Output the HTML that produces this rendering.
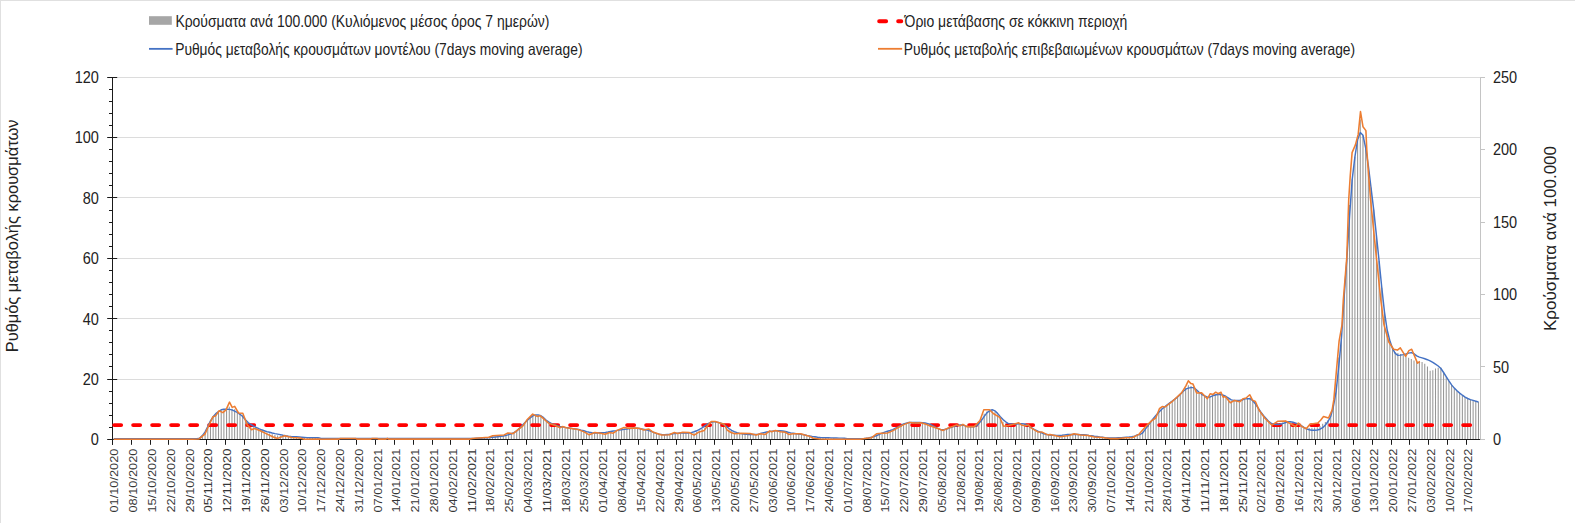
<!DOCTYPE html>
<html lang="el"><head><meta charset="utf-8"><title>Chart</title>
<style>html,body{margin:0;padding:0;background:#fff}body{width:1575px;height:523px;overflow:hidden}svg{display:block}</style></head>
<body>
<svg width="1575" height="523" viewBox="0 0 1575 523">
<rect width="1575" height="523" fill="#fff"/>
<rect x="0" y="0" width="1575" height="1" fill="#e0e0e0"/><rect x="0" y="0" width="1" height="523" fill="#e0e0e0"/>
<path d="M112.4,379.5H1480.8M112.4,318.5H1480.8M112.4,258.5H1480.8M112.4,197.5H1480.8M112.4,137.5H1480.8M112.4,77.5H1480.8" stroke="#dcdcdc" stroke-width="1" fill="none"/>
<path d="M199.19,439.4V438.0h1.05V439.4zM201.87,439.4V435.7h1.05V439.4zM204.56,439.4V432.6h1.05V439.4zM207.25,439.4V427.1h1.05V439.4zM209.93,439.4V421.3h1.05V439.4zM212.62,439.4V416.8h1.05V439.4zM215.31,439.4V414.4h1.05V439.4zM217.99,439.4V411.6h1.05V439.4zM220.68,439.4V410.6h1.05V439.4zM223.36,439.4V410.2h1.05V439.4zM226.05,439.4V409.0h1.05V439.4zM228.74,439.4V406.7h1.05V439.4zM231.42,439.4V408.7h1.05V439.4zM234.11,439.4V409.2h1.05V439.4zM236.80,439.4V411.8h1.05V439.4zM239.48,439.4V413.8h1.05V439.4zM242.17,439.4V415.2h1.05V439.4zM244.86,439.4V419.8h1.05V439.4zM247.54,439.4V423.9h1.05V439.4zM250.23,439.4V426.3h1.05V439.4zM252.92,439.4V427.2h1.05V439.4zM255.60,439.4V428.1h1.05V439.4zM258.29,439.4V429.3h1.05V439.4zM260.98,439.4V430.4h1.05V439.4zM263.66,439.4V431.5h1.05V439.4zM266.35,439.4V432.5h1.05V439.4zM269.04,439.4V433.4h1.05V439.4zM271.72,439.4V434.3h1.05V439.4zM274.41,439.4V435.0h1.05V439.4zM277.09,439.4V435.6h1.05V439.4zM279.78,439.4V435.6h1.05V439.4zM282.47,439.4V435.6h1.05V439.4zM285.15,439.4V435.8h1.05V439.4zM287.84,439.4V436.2h1.05V439.4zM290.53,439.4V436.5h1.05V439.4zM293.21,439.4V436.8h1.05V439.4zM295.90,439.4V437.0h1.05V439.4zM298.59,439.4V437.2h1.05V439.4zM301.27,439.4V437.5h1.05V439.4zM303.96,439.4V437.9h1.05V439.4zM306.65,439.4V438.0h1.05V439.4zM309.33,439.4V438.1h1.05V439.4zM312.02,439.4V438.1h1.05V439.4zM314.71,439.4V438.1h1.05V439.4zM317.39,439.4V438.1h1.05V439.4zM341.57,439.4V438.2h1.05V439.4zM344.26,439.4V438.2h1.05V439.4zM346.94,439.4V438.2h1.05V439.4zM349.63,439.4V438.2h1.05V439.4zM352.32,439.4V438.2h1.05V439.4zM355.00,439.4V438.2h1.05V439.4zM373.81,439.4V438.2h1.05V439.4zM376.50,439.4V438.2h1.05V439.4zM387.24,439.4V438.3h1.05V439.4zM473.21,439.4V438.1h1.05V439.4zM475.90,439.4V438.0h1.05V439.4zM478.58,439.4V437.8h1.05V439.4zM481.27,439.4V437.7h1.05V439.4zM483.96,439.4V437.5h1.05V439.4zM486.64,439.4V437.4h1.05V439.4zM489.33,439.4V437.1h1.05V439.4zM492.01,439.4V436.6h1.05V439.4zM494.70,439.4V436.4h1.05V439.4zM497.39,439.4V436.1h1.05V439.4zM500.07,439.4V435.9h1.05V439.4zM502.76,439.4V435.6h1.05V439.4zM505.45,439.4V434.8h1.05V439.4zM508.13,439.4V434.0h1.05V439.4zM510.82,439.4V433.6h1.05V439.4zM513.51,439.4V432.7h1.05V439.4zM516.19,439.4V430.9h1.05V439.4zM518.88,439.4V428.5h1.05V439.4zM521.57,439.4V425.8h1.05V439.4zM524.25,439.4V422.9h1.05V439.4zM526.94,439.4V419.8h1.05V439.4zM529.63,439.4V417.3h1.05V439.4zM532.31,439.4V415.2h1.05V439.4zM535.00,439.4V415.3h1.05V439.4zM537.69,439.4V415.4h1.05V439.4zM540.37,439.4V416.0h1.05V439.4zM543.06,439.4V418.1h1.05V439.4zM545.74,439.4V420.6h1.05V439.4zM548.43,439.4V422.7h1.05V439.4zM551.12,439.4V423.9h1.05V439.4zM553.80,439.4V424.9h1.05V439.4zM556.49,439.4V426.0h1.05V439.4zM559.18,439.4V426.9h1.05V439.4zM561.86,439.4V426.8h1.05V439.4zM564.55,439.4V427.4h1.05V439.4zM567.24,439.4V427.9h1.05V439.4zM569.92,439.4V428.3h1.05V439.4zM572.61,439.4V428.6h1.05V439.4zM575.30,439.4V429.0h1.05V439.4zM577.98,439.4V429.6h1.05V439.4zM580.67,439.4V430.4h1.05V439.4zM583.36,439.4V431.2h1.05V439.4zM586.04,439.4V432.3h1.05V439.4zM588.73,439.4V433.3h1.05V439.4zM591.42,439.4V433.1h1.05V439.4zM594.10,439.4V432.8h1.05V439.4zM596.79,439.4V432.9h1.05V439.4zM599.47,439.4V432.9h1.05V439.4zM602.16,439.4V433.1h1.05V439.4zM604.85,439.4V433.1h1.05V439.4zM607.53,439.4V432.4h1.05V439.4zM610.22,439.4V432.0h1.05V439.4zM612.91,439.4V431.9h1.05V439.4zM615.59,439.4V430.8h1.05V439.4zM618.28,439.4V430.0h1.05V439.4zM620.97,439.4V429.3h1.05V439.4zM623.65,439.4V428.6h1.05V439.4zM626.34,439.4V428.6h1.05V439.4zM629.03,439.4V428.4h1.05V439.4zM631.71,439.4V428.2h1.05V439.4zM634.40,439.4V428.1h1.05V439.4zM637.09,439.4V428.3h1.05V439.4zM639.77,439.4V428.7h1.05V439.4zM642.46,439.4V429.4h1.05V439.4zM645.15,439.4V429.7h1.05V439.4zM647.83,439.4V429.9h1.05V439.4zM650.52,439.4V431.0h1.05V439.4zM653.20,439.4V432.3h1.05V439.4zM655.89,439.4V433.4h1.05V439.4zM658.58,439.4V434.1h1.05V439.4zM661.26,439.4V434.8h1.05V439.4zM663.95,439.4V434.8h1.05V439.4zM666.64,439.4V434.7h1.05V439.4zM669.32,439.4V434.4h1.05V439.4zM672.01,439.4V433.7h1.05V439.4zM674.70,439.4V433.2h1.05V439.4zM677.38,439.4V433.3h1.05V439.4zM680.07,439.4V432.9h1.05V439.4zM682.76,439.4V432.7h1.05V439.4zM685.44,439.4V432.7h1.05V439.4zM688.13,439.4V432.8h1.05V439.4zM690.82,439.4V433.0h1.05V439.4zM693.50,439.4V433.1h1.05V439.4zM696.19,439.4V431.8h1.05V439.4zM698.88,439.4V430.4h1.05V439.4zM701.56,439.4V429.1h1.05V439.4zM704.25,439.4V427.4h1.05V439.4zM706.93,439.4V424.7h1.05V439.4zM709.62,439.4V422.7h1.05V439.4zM712.31,439.4V421.7h1.05V439.4zM714.99,439.4V421.8h1.05V439.4zM717.68,439.4V422.4h1.05V439.4zM720.37,439.4V423.2h1.05V439.4zM723.05,439.4V424.2h1.05V439.4zM725.74,439.4V427.2h1.05V439.4zM728.43,439.4V429.6h1.05V439.4zM731.11,439.4V431.3h1.05V439.4zM733.80,439.4V432.4h1.05V439.4zM736.49,439.4V433.0h1.05V439.4zM739.17,439.4V433.4h1.05V439.4zM741.86,439.4V433.6h1.05V439.4zM744.55,439.4V433.9h1.05V439.4zM747.23,439.4V434.0h1.05V439.4zM749.92,439.4V434.1h1.05V439.4zM752.61,439.4V434.4h1.05V439.4zM755.29,439.4V434.6h1.05V439.4zM757.98,439.4V434.2h1.05V439.4zM760.66,439.4V433.6h1.05V439.4zM763.35,439.4V433.2h1.05V439.4zM766.04,439.4V432.6h1.05V439.4zM768.72,439.4V431.4h1.05V439.4zM771.41,439.4V431.4h1.05V439.4zM774.10,439.4V430.9h1.05V439.4zM776.78,439.4V430.8h1.05V439.4zM779.47,439.4V431.0h1.05V439.4zM782.16,439.4V431.4h1.05V439.4zM784.84,439.4V431.8h1.05V439.4zM787.53,439.4V433.0h1.05V439.4zM790.22,439.4V433.4h1.05V439.4zM792.90,439.4V433.5h1.05V439.4zM795.59,439.4V433.7h1.05V439.4zM798.28,439.4V434.0h1.05V439.4zM800.96,439.4V434.3h1.05V439.4zM803.65,439.4V434.9h1.05V439.4zM806.34,439.4V435.4h1.05V439.4zM809.02,439.4V436.0h1.05V439.4zM811.71,439.4V436.7h1.05V439.4zM814.39,439.4V437.2h1.05V439.4zM817.08,439.4V437.5h1.05V439.4zM819.77,439.4V437.8h1.05V439.4zM822.45,439.4V438.0h1.05V439.4zM825.14,439.4V438.1h1.05V439.4zM827.83,439.4V438.2h1.05V439.4zM830.51,439.4V438.2h1.05V439.4zM833.20,439.4V438.3h1.05V439.4zM865.44,439.4V438.1h1.05V439.4zM868.12,439.4V437.8h1.05V439.4zM870.81,439.4V437.3h1.05V439.4zM873.50,439.4V436.1h1.05V439.4zM876.18,439.4V434.8h1.05V439.4zM878.87,439.4V434.0h1.05V439.4zM881.56,439.4V433.2h1.05V439.4zM884.24,439.4V432.5h1.05V439.4zM886.93,439.4V431.9h1.05V439.4zM889.62,439.4V431.1h1.05V439.4zM892.30,439.4V430.0h1.05V439.4zM894.99,439.4V428.5h1.05V439.4zM897.68,439.4V427.0h1.05V439.4zM900.36,439.4V425.6h1.05V439.4zM903.05,439.4V424.3h1.05V439.4zM905.74,439.4V423.4h1.05V439.4zM908.42,439.4V422.6h1.05V439.4zM911.11,439.4V422.5h1.05V439.4zM913.80,439.4V422.6h1.05V439.4zM916.48,439.4V422.6h1.05V439.4zM919.17,439.4V422.6h1.05V439.4zM921.85,439.4V422.9h1.05V439.4zM924.54,439.4V423.4h1.05V439.4zM927.23,439.4V424.2h1.05V439.4zM929.91,439.4V425.1h1.05V439.4zM932.60,439.4V426.3h1.05V439.4zM935.29,439.4V427.6h1.05V439.4zM937.97,439.4V428.7h1.05V439.4zM940.66,439.4V429.8h1.05V439.4zM943.35,439.4V429.9h1.05V439.4zM946.03,439.4V428.9h1.05V439.4zM948.72,439.4V427.9h1.05V439.4zM951.41,439.4V427.0h1.05V439.4zM954.09,439.4V426.1h1.05V439.4zM956.78,439.4V425.4h1.05V439.4zM959.47,439.4V425.3h1.05V439.4zM962.15,439.4V424.8h1.05V439.4zM964.84,439.4V425.9h1.05V439.4zM967.53,439.4V426.6h1.05V439.4zM970.21,439.4V426.7h1.05V439.4zM972.90,439.4V426.7h1.05V439.4zM975.58,439.4V425.5h1.05V439.4zM978.27,439.4V422.9h1.05V439.4zM980.96,439.4V418.7h1.05V439.4zM983.64,439.4V413.7h1.05V439.4zM986.33,439.4V411.6h1.05V439.4zM989.02,439.4V410.3h1.05V439.4zM991.70,439.4V410.8h1.05V439.4zM994.39,439.4V412.3h1.05V439.4zM997.08,439.4V414.5h1.05V439.4zM999.76,439.4V417.5h1.05V439.4zM1002.45,439.4V421.7h1.05V439.4zM1005.14,439.4V423.4h1.05V439.4zM1007.82,439.4V424.4h1.05V439.4zM1010.51,439.4V424.4h1.05V439.4zM1013.20,439.4V424.1h1.05V439.4zM1015.88,439.4V423.7h1.05V439.4zM1018.57,439.4V423.4h1.05V439.4zM1021.26,439.4V424.2h1.05V439.4zM1023.94,439.4V424.6h1.05V439.4zM1026.63,439.4V425.0h1.05V439.4zM1029.31,439.4V426.6h1.05V439.4zM1032.00,439.4V428.5h1.05V439.4zM1034.69,439.4V430.1h1.05V439.4zM1037.37,439.4V431.5h1.05V439.4zM1040.06,439.4V432.1h1.05V439.4zM1042.75,439.4V433.2h1.05V439.4zM1045.43,439.4V434.2h1.05V439.4zM1048.12,439.4V434.8h1.05V439.4zM1050.81,439.4V435.0h1.05V439.4zM1053.49,439.4V435.3h1.05V439.4zM1056.18,439.4V435.5h1.05V439.4zM1058.87,439.4V435.8h1.05V439.4zM1061.55,439.4V435.7h1.05V439.4zM1064.24,439.4V435.3h1.05V439.4zM1066.93,439.4V435.0h1.05V439.4zM1069.61,439.4V434.7h1.05V439.4zM1072.30,439.4V434.4h1.05V439.4zM1074.99,439.4V434.3h1.05V439.4zM1077.67,439.4V434.5h1.05V439.4zM1080.36,439.4V434.8h1.05V439.4zM1083.04,439.4V434.9h1.05V439.4zM1085.73,439.4V435.1h1.05V439.4zM1088.42,439.4V435.5h1.05V439.4zM1091.10,439.4V435.9h1.05V439.4zM1093.79,439.4V436.4h1.05V439.4zM1096.48,439.4V436.6h1.05V439.4zM1099.16,439.4V436.9h1.05V439.4zM1101.85,439.4V437.1h1.05V439.4zM1104.54,439.4V437.5h1.05V439.4zM1107.22,439.4V437.8h1.05V439.4zM1109.91,439.4V438.0h1.05V439.4zM1112.60,439.4V438.0h1.05V439.4zM1115.28,439.4V437.9h1.05V439.4zM1117.97,439.4V437.8h1.05V439.4zM1120.66,439.4V437.7h1.05V439.4zM1123.34,439.4V437.4h1.05V439.4zM1126.03,439.4V437.2h1.05V439.4zM1128.72,439.4V437.0h1.05V439.4zM1131.40,439.4V436.8h1.05V439.4zM1134.09,439.4V436.1h1.05V439.4zM1136.77,439.4V434.9h1.05V439.4zM1139.46,439.4V433.9h1.05V439.4zM1142.15,439.4V431.7h1.05V439.4zM1144.83,439.4V428.3h1.05V439.4zM1147.52,439.4V425.1h1.05V439.4zM1150.21,439.4V421.9h1.05V439.4zM1152.89,439.4V418.9h1.05V439.4zM1155.58,439.4V416.0h1.05V439.4zM1158.27,439.4V411.4h1.05V439.4zM1160.95,439.4V408.6h1.05V439.4zM1163.64,439.4V407.1h1.05V439.4zM1166.33,439.4V405.3h1.05V439.4zM1169.01,439.4V403.2h1.05V439.4zM1171.70,439.4V401.2h1.05V439.4zM1174.39,439.4V399.1h1.05V439.4zM1177.07,439.4V396.8h1.05V439.4zM1179.76,439.4V394.2h1.05V439.4zM1182.45,439.4V391.2h1.05V439.4zM1185.13,439.4V388.0h1.05V439.4zM1187.82,439.4V385.2h1.05V439.4zM1190.50,439.4V386.0h1.05V439.4zM1193.19,439.4V386.9h1.05V439.4zM1195.88,439.4V390.9h1.05V439.4zM1198.56,439.4V392.4h1.05V439.4zM1201.25,439.4V393.7h1.05V439.4zM1203.94,439.4V395.7h1.05V439.4zM1206.62,439.4V397.6h1.05V439.4zM1209.31,439.4V396.0h1.05V439.4zM1212.00,439.4V395.2h1.05V439.4zM1214.68,439.4V394.0h1.05V439.4zM1217.37,439.4V394.1h1.05V439.4zM1220.06,439.4V393.6h1.05V439.4zM1222.74,439.4V396.0h1.05V439.4zM1225.43,439.4V396.8h1.05V439.4zM1228.12,439.4V399.1h1.05V439.4zM1230.80,439.4V400.8h1.05V439.4zM1233.49,439.4V400.5h1.05V439.4zM1236.18,439.4V400.6h1.05V439.4zM1238.86,439.4V400.9h1.05V439.4zM1241.55,439.4V399.9h1.05V439.4zM1244.23,439.4V398.7h1.05V439.4zM1246.92,439.4V397.9h1.05V439.4zM1249.61,439.4V397.4h1.05V439.4zM1252.29,439.4V400.6h1.05V439.4zM1254.98,439.4V403.1h1.05V439.4zM1257.67,439.4V408.2h1.05V439.4zM1260.35,439.4V412.4h1.05V439.4zM1263.04,439.4V416.0h1.05V439.4zM1265.73,439.4V419.1h1.05V439.4zM1268.41,439.4V421.9h1.05V439.4zM1271.10,439.4V424.2h1.05V439.4zM1273.79,439.4V424.0h1.05V439.4zM1276.47,439.4V423.4h1.05V439.4zM1279.16,439.4V423.0h1.05V439.4zM1281.85,439.4V422.6h1.05V439.4zM1284.53,439.4V422.0h1.05V439.4zM1287.22,439.4V422.0h1.05V439.4zM1289.91,439.4V422.5h1.05V439.4zM1292.59,439.4V423.5h1.05V439.4zM1295.28,439.4V424.4h1.05V439.4zM1297.96,439.4V423.7h1.05V439.4zM1300.65,439.4V425.6h1.05V439.4zM1303.34,439.4V427.5h1.05V439.4zM1306.02,439.4V428.7h1.05V439.4zM1308.71,439.4V427.9h1.05V439.4zM1311.40,439.4V427.7h1.05V439.4zM1314.08,439.4V427.5h1.05V439.4zM1316.77,439.4V427.2h1.05V439.4zM1319.46,439.4V425.9h1.05V439.4zM1322.14,439.4V423.7h1.05V439.4zM1324.83,439.4V421.9h1.05V439.4zM1327.52,439.4V420.1h1.05V439.4zM1330.20,439.4V415.2h1.05V439.4zM1332.89,439.4V404.7h1.05V439.4zM1335.58,439.4V384.7h1.05V439.4zM1338.26,439.4V357.6h1.05V439.4zM1340.95,439.4V333.5h1.05V439.4zM1343.64,439.4V293.5h1.05V439.4zM1346.32,439.4V258.4h1.05V439.4zM1349.01,439.4V204.9h1.05V439.4zM1351.69,439.4V179.3h1.05V439.4zM1354.38,439.4V156.8h1.05V439.4zM1357.07,439.4V139.7h1.05V439.4zM1359.75,439.4V119.5h1.05V439.4zM1362.44,439.4V135.3h1.05V439.4zM1365.13,439.4V148.0h1.05V439.4zM1367.81,439.4V165.3h1.05V439.4zM1370.50,439.4V187.5h1.05V439.4zM1373.19,439.4V209.7h1.05V439.4zM1375.87,439.4V235.1h1.05V439.4zM1378.56,439.4V261.1h1.05V439.4zM1381.25,439.4V287.7h1.05V439.4zM1383.93,439.4V312.1h1.05V439.4zM1386.62,439.4V329.6h1.05V439.4zM1389.31,439.4V340.5h1.05V439.4zM1391.99,439.4V348.4h1.05V439.4zM1394.68,439.4V351.9h1.05V439.4zM1397.37,439.4V353.0h1.05V439.4zM1400.05,439.4V354.1h1.05V439.4zM1402.74,439.4V355.3h1.05V439.4zM1405.42,439.4V356.4h1.05V439.4zM1408.11,439.4V357.7h1.05V439.4zM1410.80,439.4V359.0h1.05V439.4zM1413.48,439.4V360.4h1.05V439.4zM1416.17,439.4V361.3h1.05V439.4zM1418.86,439.4V361.6h1.05V439.4zM1421.54,439.4V362.0h1.05V439.4zM1424.23,439.4V363.7h1.05V439.4zM1426.92,439.4V366.6h1.05V439.4zM1429.60,439.4V370.7h1.05V439.4zM1432.29,439.4V370.2h1.05V439.4zM1434.98,439.4V368.5h1.05V439.4zM1437.66,439.4V367.7h1.05V439.4zM1440.35,439.4V367.5h1.05V439.4zM1443.04,439.4V372.5h1.05V439.4zM1445.72,439.4V376.7h1.05V439.4zM1448.41,439.4V380.9h1.05V439.4zM1451.10,439.4V384.9h1.05V439.4zM1453.78,439.4V388.1h1.05V439.4zM1456.47,439.4V390.8h1.05V439.4zM1459.15,439.4V393.1h1.05V439.4zM1461.84,439.4V395.2h1.05V439.4zM1464.53,439.4V397.1h1.05V439.4zM1467.21,439.4V398.5h1.05V439.4zM1469.90,439.4V399.6h1.05V439.4zM1472.59,439.4V400.4h1.05V439.4zM1475.27,439.4V401.2h1.05V439.4zM1477.96,439.4V402.0h1.05V439.4z" fill="#969696"/>
<path d="M1480.5,77.2V439.4M1480.5,439.5h4.5M1480.5,366.5h4.5M1480.5,294.5h4.5M1480.5,222.5h4.5M1480.5,149.5h4.5M1480.5,77.5h4.5" stroke="#c4c4c4" stroke-width="1" fill="none"/>
<path d="M112.4,439.5H1480.2M112.5,439.4v5.4M131.5,439.4v5.4M150.5,439.4v5.4M168.5,439.4v5.4M187.5,439.4v5.4M206.5,439.4v5.4M225.5,439.4v5.4M244.5,439.4v5.4M262.5,439.4v5.4M281.5,439.4v5.4M300.5,439.4v5.4M319.5,439.4v5.4M338.5,439.4v5.4M356.5,439.4v5.4M375.5,439.4v5.4M394.5,439.4v5.4M413.5,439.4v5.4M432.5,439.4v5.4M450.5,439.4v5.4M469.5,439.4v5.4M488.5,439.4v5.4M507.5,439.4v5.4M526.5,439.4v5.4M544.5,439.4v5.4M563.5,439.4v5.4M582.5,439.4v5.4M601.5,439.4v5.4M620.5,439.4v5.4M638.5,439.4v5.4M657.5,439.4v5.4M676.5,439.4v5.4M695.5,439.4v5.4M714.5,439.4v5.4M732.5,439.4v5.4M751.5,439.4v5.4M770.5,439.4v5.4M789.5,439.4v5.4M808.5,439.4v5.4M827.5,439.4v5.4M845.5,439.4v5.4M864.5,439.4v5.4M883.5,439.4v5.4M902.5,439.4v5.4M921.5,439.4v5.4M939.5,439.4v5.4M958.5,439.4v5.4M977.5,439.4v5.4M996.5,439.4v5.4M1015.5,439.4v5.4M1033.5,439.4v5.4M1052.5,439.4v5.4M1071.5,439.4v5.4M1090.5,439.4v5.4M1109.5,439.4v5.4M1127.5,439.4v5.4M1146.5,439.4v5.4M1165.5,439.4v5.4M1184.5,439.4v5.4M1203.5,439.4v5.4M1221.5,439.4v5.4M1240.5,439.4v5.4M1259.5,439.4v5.4M1278.5,439.4v5.4M1297.5,439.4v5.4M1315.5,439.4v5.4M1334.5,439.4v5.4M1353.5,439.4v5.4M1372.5,439.4v5.4M1391.5,439.4v5.4M1409.5,439.4v5.4M1428.5,439.4v5.4M1447.5,439.4v5.4M1466.5,439.4v5.4" stroke="#1a1a1a" stroke-width="1" fill="none"/>
<path d="M112.5,77.0V444.8M107.2,439.5h5.2M109.0,427.5h3.4M109.0,415.5h3.4M109.0,403.5h3.4M109.0,391.5h3.4M107.2,379.5h10M109.0,366.5h3.4M109.0,354.5h3.4M109.0,342.5h3.4M109.0,330.5h3.4M107.2,318.5h10M109.0,306.5h3.4M109.0,294.5h3.4M109.0,282.5h3.4M109.0,270.5h3.4M107.2,258.5h10M109.0,246.5h3.4M109.0,234.5h3.4M109.0,222.5h3.4M109.0,210.5h3.4M107.2,197.5h10M109.0,185.5h3.4M109.0,173.5h3.4M109.0,161.5h3.4M109.0,149.5h3.4M107.2,137.5h10M109.0,125.5h3.4M109.0,113.5h3.4M109.0,101.5h3.4M109.0,89.5h3.4M107.2,77.5h10" stroke="#1a1a1a" stroke-width="1" fill="none"/>
<path d="M114.15,425.1H1471" stroke="#ff0000" stroke-width="3.9" stroke-linecap="round" stroke-dasharray="7 12" fill="none"/>
<path d="M113.7,438.8 L116.4,438.8 L119.1,438.8 L121.8,438.8 L124.5,438.8 L127.2,438.8 L129.9,438.8 L132.5,438.8 L135.2,438.8 L137.9,438.8 L140.6,438.8 L143.3,438.8 L146.0,438.8 L148.7,438.8 L151.4,438.8 L154.0,438.8 L156.7,438.8 L159.4,438.8 L162.1,438.8 L164.8,438.8 L167.5,438.8 L170.2,438.8 L172.8,438.8 L175.5,438.8 L178.2,438.8 L180.9,438.8 L183.6,438.8 L186.3,438.8 L189.0,438.8 L191.7,438.7 L194.3,438.7 L197.0,438.6 L199.7,438.1 L202.4,435.6 L205.1,431.9 L207.8,426.6 L210.5,420.9 L213.1,416.8 L215.8,413.6 L218.5,411.5 L221.2,409.8 L223.9,409.2 L226.6,409.3 L229.3,409.4 L231.9,409.9 L234.6,411.1 L237.3,412.4 L240.0,414.3 L242.7,416.5 L245.4,419.7 L248.1,422.6 L250.8,424.5 L253.4,426.0 L256.1,427.4 L258.8,428.7 L261.5,429.8 L264.2,430.7 L266.9,431.6 L269.6,432.3 L272.2,433.0 L274.9,433.6 L277.6,434.1 L280.3,434.6 L283.0,435.2 L285.7,435.7 L288.4,436.1 L291.1,436.4 L293.7,436.6 L296.4,436.8 L299.1,437.0 L301.8,437.2 L304.5,437.4 L307.2,437.6 L309.9,437.7 L312.5,437.7 L315.2,437.8 L317.9,437.8 L320.6,438.2 L323.3,438.4 L326.0,438.5 L328.7,438.5 L331.3,438.5 L334.0,438.5 L336.7,438.5 L339.4,438.5 L342.1,438.5 L344.8,438.5 L347.5,438.5 L350.2,438.5 L352.8,438.5 L355.5,438.5 L358.2,438.5 L360.9,438.5 L363.6,438.5 L366.3,438.5 L369.0,438.5 L371.6,438.5 L374.3,438.5 L377.0,438.5 L379.7,438.5 L382.4,438.5 L385.1,438.5 L387.8,438.5 L390.5,438.5 L393.1,438.5 L395.8,438.5 L398.5,438.5 L401.2,438.5 L403.9,438.5 L406.6,438.5 L409.3,438.5 L411.9,438.5 L414.6,438.5 L417.3,438.5 L420.0,438.5 L422.7,438.5 L425.4,438.5 L428.1,438.5 L430.8,438.5 L433.4,438.5 L436.1,438.5 L438.8,438.5 L441.5,438.5 L444.2,438.5 L446.9,438.5 L449.6,438.5 L452.2,438.5 L454.9,438.5 L457.6,438.5 L460.3,438.5 L463.0,438.5 L465.7,438.5 L468.4,438.5 L471.0,438.5 L473.7,438.4 L476.4,438.3 L479.1,438.2 L481.8,438.1 L484.5,437.9 L487.2,437.7 L489.9,437.5 L492.5,437.3 L495.2,437.0 L497.9,436.7 L500.6,436.4 L503.3,436.0 L506.0,435.4 L508.7,434.6 L511.3,433.7 L514.0,432.6 L516.7,430.9 L519.4,428.4 L522.1,425.4 L524.8,422.7 L527.5,420.1 L530.2,417.8 L532.8,415.9 L535.5,415.0 L538.2,414.9 L540.9,415.8 L543.6,417.7 L546.3,420.3 L549.0,422.2 L551.6,423.7 L554.3,424.8 L557.0,425.7 L559.7,426.4 L562.4,426.9 L565.1,427.4 L567.8,427.8 L570.4,428.2 L573.1,428.6 L575.8,429.0 L578.5,429.5 L581.2,430.2 L583.9,430.8 L586.6,431.6 L589.3,432.3 L591.9,432.7 L594.6,432.9 L597.3,432.9 L600.0,432.8 L602.7,432.7 L605.4,432.4 L608.1,432.0 L610.7,431.5 L613.4,431.0 L616.1,430.6 L618.8,430.1 L621.5,429.7 L624.2,429.4 L626.9,429.0 L629.6,428.6 L632.2,428.2 L634.9,428.1 L637.6,428.3 L640.3,428.7 L643.0,429.2 L645.7,429.7 L648.4,430.4 L651.0,431.2 L653.7,432.3 L656.4,433.4 L659.1,434.1 L661.8,434.5 L664.5,434.7 L667.2,434.5 L669.8,434.3 L672.5,433.9 L675.2,433.6 L677.9,433.3 L680.6,433.0 L683.3,432.9 L686.0,432.9 L688.7,432.9 L691.3,432.6 L694.0,431.8 L696.7,430.8 L699.4,429.4 L702.1,427.9 L704.8,425.9 L707.5,424.0 L710.1,422.6 L712.8,421.8 L715.5,421.9 L718.2,422.4 L720.9,423.2 L723.6,424.4 L726.3,426.4 L729.0,428.5 L731.6,430.3 L734.3,431.6 L737.0,432.7 L739.7,433.4 L742.4,433.9 L745.1,434.2 L747.8,434.4 L750.4,434.4 L753.1,434.4 L755.8,434.4 L758.5,434.2 L761.2,433.3 L763.9,432.6 L766.6,432.0 L769.2,431.6 L771.9,431.2 L774.6,430.9 L777.3,430.7 L780.0,430.7 L782.7,431.0 L785.4,431.5 L788.1,432.3 L790.7,432.9 L793.4,433.3 L796.1,433.7 L798.8,434.1 L801.5,434.4 L804.2,434.8 L806.9,435.4 L809.5,435.9 L812.2,436.4 L814.9,436.8 L817.6,437.2 L820.3,437.5 L823.0,437.6 L825.7,437.8 L828.4,437.8 L831.0,437.9 L833.7,438.0 L836.4,438.0 L839.1,438.1 L841.8,438.1 L844.5,438.2 L847.2,438.7 L849.8,438.8 L852.5,438.8 L855.2,438.8 L857.9,438.8 L860.6,438.8 L863.3,438.6 L866.0,438.3 L868.6,437.9 L871.3,437.3 L874.0,436.6 L876.7,435.5 L879.4,434.3 L882.1,433.2 L884.8,432.1 L887.5,431.3 L890.1,430.5 L892.8,429.6 L895.5,428.2 L898.2,426.8 L900.9,425.3 L903.6,423.9 L906.3,423.1 L908.9,422.5 L911.6,422.4 L914.3,422.4 L917.0,422.4 L919.7,422.5 L922.4,422.7 L925.1,423.0 L927.8,423.6 L930.4,424.5 L933.1,425.8 L935.8,427.3 L938.5,428.6 L941.2,429.8 L943.9,429.8 L946.6,429.0 L949.2,428.0 L951.9,427.1 L954.6,426.3 L957.3,425.6 L960.0,425.0 L962.7,425.0 L965.4,425.9 L968.1,426.6 L970.7,426.7 L973.4,426.8 L976.1,426.1 L978.8,423.6 L981.5,420.3 L984.2,416.4 L986.9,412.9 L989.5,410.7 L992.2,409.7 L994.9,410.9 L997.6,413.4 L1000.3,416.7 L1003.0,419.6 L1005.7,421.8 L1008.3,423.6 L1011.0,424.0 L1013.7,424.0 L1016.4,424.0 L1019.1,423.7 L1021.8,423.7 L1024.5,424.0 L1027.2,424.9 L1029.8,426.6 L1032.5,428.3 L1035.2,430.0 L1037.9,431.2 L1040.6,432.3 L1043.3,433.5 L1046.0,434.3 L1048.6,434.7 L1051.3,435.2 L1054.0,435.3 L1056.7,435.4 L1059.4,435.5 L1062.1,435.3 L1064.8,434.9 L1067.5,434.5 L1070.1,434.4 L1072.8,434.4 L1075.5,434.4 L1078.2,434.5 L1080.9,434.6 L1083.6,434.7 L1086.3,435.0 L1088.9,435.5 L1091.6,435.8 L1094.3,436.2 L1097.0,436.5 L1099.7,436.9 L1102.4,437.2 L1105.1,437.6 L1107.7,437.9 L1110.4,438.0 L1113.1,437.9 L1115.8,437.9 L1118.5,437.7 L1121.2,437.6 L1123.9,437.4 L1126.6,437.2 L1129.2,437.0 L1131.9,436.7 L1134.6,436.1 L1137.3,434.8 L1140.0,434.5 L1142.7,432.8 L1145.4,429.1 L1148.0,425.6 L1150.7,422.0 L1153.4,418.4 L1156.1,415.2 L1158.8,412.2 L1161.5,409.5 L1164.2,407.3 L1166.9,405.1 L1169.5,403.0 L1172.2,401.1 L1174.9,399.1 L1177.6,397.0 L1180.3,394.2 L1183.0,391.5 L1185.7,389.2 L1188.3,388.1 L1191.0,387.6 L1193.7,387.6 L1196.4,389.9 L1199.1,392.2 L1201.8,394.3 L1204.5,395.8 L1207.1,397.0 L1209.8,397.1 L1212.5,395.9 L1215.2,395.0 L1217.9,394.5 L1220.6,394.4 L1223.3,395.2 L1226.0,396.5 L1228.6,398.2 L1231.3,399.9 L1234.0,400.4 L1236.7,400.4 L1239.4,400.4 L1242.1,400.0 L1244.8,398.9 L1247.4,398.7 L1250.1,398.7 L1252.8,400.8 L1255.5,404.0 L1258.2,408.1 L1260.9,412.2 L1263.6,415.7 L1266.3,418.8 L1268.9,421.7 L1271.6,423.7 L1274.3,424.2 L1277.0,424.5 L1279.7,424.3 L1282.4,423.6 L1285.1,422.8 L1287.7,421.8 L1290.4,421.7 L1293.1,422.3 L1295.8,423.1 L1298.5,424.2 L1301.2,425.5 L1303.9,427.4 L1306.5,428.9 L1309.2,429.8 L1311.9,430.2 L1314.6,430.2 L1317.3,430.0 L1320.0,429.2 L1322.7,427.7 L1325.4,425.0 L1328.0,421.5 L1330.7,416.5 L1333.4,406.4 L1336.1,391.6 L1338.8,366.2 L1341.5,337.4 L1344.2,296.2 L1346.8,260.0 L1349.5,216.9 L1352.2,179.3 L1354.9,156.8 L1357.6,139.7 L1360.3,132.6 L1363.0,135.3 L1365.7,148.0 L1368.3,165.3 L1371.0,187.5 L1373.7,209.7 L1376.4,235.1 L1379.1,261.1 L1381.8,287.7 L1384.5,312.1 L1387.1,329.6 L1389.8,340.5 L1392.5,348.4 L1395.2,353.4 L1397.9,355.4 L1400.6,355.1 L1403.3,354.6 L1405.9,354.0 L1408.6,353.1 L1411.3,352.6 L1414.0,353.7 L1416.7,355.9 L1419.4,357.1 L1422.1,357.9 L1424.8,358.8 L1427.4,359.7 L1430.1,360.8 L1432.8,362.3 L1435.5,364.2 L1438.2,366.0 L1440.9,368.5 L1443.6,372.5 L1446.2,376.7 L1448.9,380.9 L1451.6,384.9 L1454.3,388.1 L1457.0,390.8 L1459.7,393.1 L1462.4,395.2 L1465.1,397.1 L1467.7,398.5 L1470.4,399.6 L1473.1,400.4 L1475.8,401.2 L1478.5,402.0" stroke="#4472c4" stroke-width="1.45" fill="none" stroke-linejoin="round"/>
<path d="M113.7,439.2 L180.0,439.2 L192.4,439.2 L198.7,439.1 L204.9,434.1 L208.6,426.0 L213.0,416.7 L215.4,416.1 L219.2,410.8 L222.9,412.6 L226.0,409.9 L229.5,402.1 L232.2,407.4 L234.7,406.4 L238.5,413.0 L242.8,413.3 L247.2,424.8 L251.5,429.8 L254.6,428.5 L260.8,431.0 L267.1,434.1 L273.3,437.0 L277.6,438.4 L284.5,435.7 L291.9,437.4 L300.0,438.1 L304.4,439.2 L320.0,439.1 L320.5,439.2 L339.0,439.1 L340.3,438.4 L355.6,438.4 L356.8,439.1 L370.8,439.1 L372.1,438.4 L377.1,438.4 L378.4,439.1 L386.0,439.1 L387.3,438.3 L388.6,439.1 L469.8,439.1 L472.4,438.4 L478.7,437.9 L488.9,437.3 L492.7,435.7 L504.1,434.9 L507.9,433.0 L510.5,433.3 L513.0,433.7 L515.6,431.7 L523.2,425.6 L527.0,419.8 L532.7,414.1 L537.1,416.4 L540.3,415.8 L543.5,418.6 L548.6,423.3 L554.9,425.3 L560.0,427.8 L562.5,426.6 L566.3,427.8 L577.8,429.4 L584.1,431.9 L589.2,434.8 L594.9,432.5 L600.6,433.2 L605.1,434.2 L609.5,432.5 L613.3,433.2 L617.1,430.4 L624.1,427.5 L627.3,428.1 L636.2,428.1 L640.0,428.5 L643.8,430.0 L648.9,429.1 L652.7,431.9 L661.6,435.1 L669.2,434.8 L674.4,432.5 L677.6,433.4 L682.7,432.3 L689.0,432.5 L694.1,435.1 L699.2,431.9 L704.3,430.4 L708.1,424.9 L711.3,421.5 L715.1,421.5 L720.8,423.3 L724.0,424.0 L727.1,430.0 L731.0,432.5 L734.8,433.8 L741.1,433.2 L750.0,433.4 L756.3,435.1 L760.2,433.8 L765.2,434.4 L769.7,430.9 L771.6,431.7 L775.4,430.6 L780.5,431.7 L785.6,432.3 L788.7,434.4 L793.2,433.8 L800.8,433.8 L804.6,435.1 L808.4,435.9 L813.5,438.2 L819.8,438.9 L828.7,439.2 L857.9,439.2 L860.0,439.2 L865.1,438.6 L871.4,437.8 L876.5,433.8 L881.6,433.2 L887.9,432.9 L893.0,430.6 L898.1,427.5 L903.2,424.9 L909.5,422.4 L915.9,423.0 L921.0,422.8 L926.0,424.3 L931.1,426.2 L936.2,428.1 L943.2,430.4 L948.9,427.8 L953.3,426.2 L956.5,424.9 L960.3,425.8 L962.9,424.3 L966.7,426.6 L974.3,426.6 L980.0,420.5 L983.8,409.7 L989.5,409.7 L993.3,413.5 L999.7,417.3 L1003.5,426.2 L1008.6,425.6 L1014.3,424.0 L1018.7,422.8 L1021.3,424.9 L1025.1,425.8 L1028.3,424.9 L1031.4,428.1 L1037.8,431.9 L1041.6,431.9 L1046.7,434.4 L1049.2,435.0 L1050.0,434.4 L1060.2,436.7 L1069.0,435.6 L1074.1,433.8 L1080.5,435.1 L1088.1,435.4 L1094.4,437.1 L1102.1,437.5 L1109.7,438.6 L1118.6,438.6 L1126.2,437.8 L1132.5,437.5 L1138.9,434.4 L1140.0,433.1 L1145.7,426.6 L1151.5,420.9 L1155.8,418.0 L1159.4,408.7 L1162.2,406.6 L1165.1,407.0 L1173.0,400.8 L1181.6,392.9 L1185.9,385.8 L1188.3,380.8 L1190.9,383.6 L1193.0,384.1 L1196.6,392.9 L1201.6,392.7 L1207.4,398.7 L1210.3,393.7 L1213.1,394.4 L1215.7,392.2 L1218.1,393.7 L1221.0,392.2 L1223.2,397.2 L1225.3,396.5 L1230.3,402.7 L1234.6,400.4 L1239.6,401.8 L1243.2,398.7 L1246.1,398.0 L1249.7,394.7 L1252.5,400.1 L1255.4,401.5 L1259.0,410.1 L1264.7,418.0 L1271.9,425.2 L1277.6,421.3 L1285.5,420.9 L1289.1,423.0 L1295.6,426.6 L1298.4,423.0 L1302.0,426.6 L1306.3,428.8 L1309.9,424.2 L1317.8,423.0 L1320.6,420.2 L1323.5,416.6 L1328.5,418.0 L1332.1,410.1 L1333.8,399.9 L1339.1,341.1 L1342.0,324.8 L1343.3,300.0 L1346.8,257.3 L1348.7,200.0 L1350.2,176.4 L1352.1,152.6 L1355.4,144.9 L1358.2,134.4 L1360.5,111.5 L1363.0,126.8 L1365.9,130.6 L1366.8,149.7 L1368.7,176.4 L1370.6,200.0 L1375.4,247.8 L1380.8,300.0 L1384.0,324.8 L1388.8,342.0 L1393.6,349.3 L1397.4,350.1 L1400.3,347.8 L1405.6,356.4 L1408.9,350.6 L1411.7,349.3 L1417.5,363.1 L1419.9,361.5" stroke="#ed7d31" stroke-width="1.55" fill="none" stroke-linejoin="round"/>
<g fill="#222" font-family="Liberation Sans, Arial, sans-serif" font-size="16.5" text-anchor="end">
<text transform="translate(98.9,445.2) scale(0.88,1)">0</text>
<text transform="translate(98.9,384.8) scale(0.88,1)">20</text>
<text transform="translate(98.9,324.5) scale(0.88,1)">40</text>
<text transform="translate(98.9,264.1) scale(0.88,1)">60</text>
<text transform="translate(98.9,203.7) scale(0.88,1)">80</text>
<text transform="translate(98.9,143.4) scale(0.88,1)">100</text>
<text transform="translate(98.9,83.0) scale(0.88,1)">120</text>
</g>
<g fill="#222" font-family="Liberation Sans, Arial, sans-serif" font-size="16.5">
<text transform="translate(1492.9,445.2) scale(0.88,1)">0</text>
<text transform="translate(1492.9,372.8) scale(0.88,1)">50</text>
<text transform="translate(1492.9,300.3) scale(0.88,1)">100</text>
<text transform="translate(1492.9,227.9) scale(0.88,1)">150</text>
<text transform="translate(1492.9,155.4) scale(0.88,1)">200</text>
<text transform="translate(1492.9,83.0) scale(0.88,1)">250</text>
</g>
<rect x="149" y="16.2" width="22.8" height="8.6" fill="#a6a6a6"/>
<path d="M149,48.85H172.6" stroke="#4472c4" stroke-width="1.8"/>
<path d="M879.15,21.3H901.3" stroke="#ff0000" stroke-width="3.9" stroke-linecap="round" stroke-dasharray="7 12"/>
<path d="M878,48.8H902.2" stroke="#ed7d31" stroke-width="1.8"/>
<g fill="#222" font-family="Liberation Sans, Arial, sans-serif" font-size="16.5">
<text x="175.4" y="26.8" textLength="374" lengthAdjust="spacingAndGlyphs">Κρούσματα ανά 100.000 (Κυλιόμενος μέσος όρος 7 ημερών)</text>
<text x="175.2" y="54.8" textLength="407.3" lengthAdjust="spacingAndGlyphs">Ρυθμός μεταβολής κρουσμάτων μοντέλου (7days moving average)</text>
<text x="904.6" y="26.8" textLength="222.7" lengthAdjust="spacingAndGlyphs">Όριο μετάβασης σε κόκκινη περιοχή</text>
<text x="903.8" y="54.8" textLength="451.3" lengthAdjust="spacingAndGlyphs">Ρυθμός μεταβολής επιβεβαιωμένων κρουσμάτων (7days moving average)</text>
</g>
<text fill="#222" font-family="Liberation Sans, Arial, sans-serif" font-size="16.3" transform="translate(17.9,352.3) rotate(-90)" textLength="232.8" lengthAdjust="spacingAndGlyphs">Ρυθμός μεταβολής κρουσμάτων</text>
<text fill="#222" font-family="Liberation Sans, Arial, sans-serif" font-size="16.3" transform="translate(1556,331) rotate(-90)" textLength="185" lengthAdjust="spacingAndGlyphs">Κρούσματα ανά 100.000</text>
<g fill="#363636" font-family="Liberation Sans, Arial, sans-serif" font-size="10.8">
<text transform="translate(118.3,512.6) rotate(-90)" textLength="64.1" lengthAdjust="spacingAndGlyphs">01/10/2020</text>
<text transform="translate(137.1,512.6) rotate(-90)" textLength="64.1" lengthAdjust="spacingAndGlyphs">08/10/2020</text>
<text transform="translate(155.9,512.6) rotate(-90)" textLength="64.1" lengthAdjust="spacingAndGlyphs">15/10/2020</text>
<text transform="translate(174.7,512.6) rotate(-90)" textLength="64.1" lengthAdjust="spacingAndGlyphs">22/10/2020</text>
<text transform="translate(193.5,512.6) rotate(-90)" textLength="64.1" lengthAdjust="spacingAndGlyphs">29/10/2020</text>
<text transform="translate(212.3,512.6) rotate(-90)" textLength="64.1" lengthAdjust="spacingAndGlyphs">05/11/2020</text>
<text transform="translate(231.1,512.6) rotate(-90)" textLength="64.1" lengthAdjust="spacingAndGlyphs">12/11/2020</text>
<text transform="translate(249.9,512.6) rotate(-90)" textLength="64.1" lengthAdjust="spacingAndGlyphs">19/11/2020</text>
<text transform="translate(268.7,512.6) rotate(-90)" textLength="64.1" lengthAdjust="spacingAndGlyphs">26/11/2020</text>
<text transform="translate(287.5,512.6) rotate(-90)" textLength="64.1" lengthAdjust="spacingAndGlyphs">03/12/2020</text>
<text transform="translate(306.4,512.6) rotate(-90)" textLength="64.1" lengthAdjust="spacingAndGlyphs">10/12/2020</text>
<text transform="translate(325.2,512.6) rotate(-90)" textLength="64.1" lengthAdjust="spacingAndGlyphs">17/12/2020</text>
<text transform="translate(344.0,512.6) rotate(-90)" textLength="64.1" lengthAdjust="spacingAndGlyphs">24/12/2020</text>
<text transform="translate(362.8,512.6) rotate(-90)" textLength="64.1" lengthAdjust="spacingAndGlyphs">31/12/2020</text>
<text transform="translate(381.6,512.6) rotate(-90)" textLength="64.1" lengthAdjust="spacingAndGlyphs">07/01/2021</text>
<text transform="translate(400.4,512.6) rotate(-90)" textLength="64.1" lengthAdjust="spacingAndGlyphs">14/01/2021</text>
<text transform="translate(419.2,512.6) rotate(-90)" textLength="64.1" lengthAdjust="spacingAndGlyphs">21/01/2021</text>
<text transform="translate(438.0,512.6) rotate(-90)" textLength="64.1" lengthAdjust="spacingAndGlyphs">28/01/2021</text>
<text transform="translate(456.8,512.6) rotate(-90)" textLength="64.1" lengthAdjust="spacingAndGlyphs">04/02/2021</text>
<text transform="translate(475.6,512.6) rotate(-90)" textLength="64.1" lengthAdjust="spacingAndGlyphs">11/02/2021</text>
<text transform="translate(494.4,512.6) rotate(-90)" textLength="64.1" lengthAdjust="spacingAndGlyphs">18/02/2021</text>
<text transform="translate(513.2,512.6) rotate(-90)" textLength="64.1" lengthAdjust="spacingAndGlyphs">25/02/2021</text>
<text transform="translate(532.0,512.6) rotate(-90)" textLength="64.1" lengthAdjust="spacingAndGlyphs">04/03/2021</text>
<text transform="translate(550.8,512.6) rotate(-90)" textLength="64.1" lengthAdjust="spacingAndGlyphs">11/03/2021</text>
<text transform="translate(569.6,512.6) rotate(-90)" textLength="64.1" lengthAdjust="spacingAndGlyphs">18/03/2021</text>
<text transform="translate(588.4,512.6) rotate(-90)" textLength="64.1" lengthAdjust="spacingAndGlyphs">25/03/2021</text>
<text transform="translate(607.2,512.6) rotate(-90)" textLength="64.1" lengthAdjust="spacingAndGlyphs">01/04/2021</text>
<text transform="translate(626.0,512.6) rotate(-90)" textLength="64.1" lengthAdjust="spacingAndGlyphs">08/04/2021</text>
<text transform="translate(644.9,512.6) rotate(-90)" textLength="64.1" lengthAdjust="spacingAndGlyphs">15/04/2021</text>
<text transform="translate(663.7,512.6) rotate(-90)" textLength="64.1" lengthAdjust="spacingAndGlyphs">22/04/2021</text>
<text transform="translate(682.5,512.6) rotate(-90)" textLength="64.1" lengthAdjust="spacingAndGlyphs">29/04/2021</text>
<text transform="translate(701.3,512.6) rotate(-90)" textLength="64.1" lengthAdjust="spacingAndGlyphs">06/05/2021</text>
<text transform="translate(720.1,512.6) rotate(-90)" textLength="64.1" lengthAdjust="spacingAndGlyphs">13/05/2021</text>
<text transform="translate(738.9,512.6) rotate(-90)" textLength="64.1" lengthAdjust="spacingAndGlyphs">20/05/2021</text>
<text transform="translate(757.7,512.6) rotate(-90)" textLength="64.1" lengthAdjust="spacingAndGlyphs">27/05/2021</text>
<text transform="translate(776.5,512.6) rotate(-90)" textLength="64.1" lengthAdjust="spacingAndGlyphs">03/06/2021</text>
<text transform="translate(795.3,512.6) rotate(-90)" textLength="64.1" lengthAdjust="spacingAndGlyphs">10/06/2021</text>
<text transform="translate(814.1,512.6) rotate(-90)" textLength="64.1" lengthAdjust="spacingAndGlyphs">17/06/2021</text>
<text transform="translate(832.9,512.6) rotate(-90)" textLength="64.1" lengthAdjust="spacingAndGlyphs">24/06/2021</text>
<text transform="translate(851.7,512.6) rotate(-90)" textLength="64.1" lengthAdjust="spacingAndGlyphs">01/07/2021</text>
<text transform="translate(870.5,512.6) rotate(-90)" textLength="64.1" lengthAdjust="spacingAndGlyphs">08/07/2021</text>
<text transform="translate(889.3,512.6) rotate(-90)" textLength="64.1" lengthAdjust="spacingAndGlyphs">15/07/2021</text>
<text transform="translate(908.1,512.6) rotate(-90)" textLength="64.1" lengthAdjust="spacingAndGlyphs">22/07/2021</text>
<text transform="translate(926.9,512.6) rotate(-90)" textLength="64.1" lengthAdjust="spacingAndGlyphs">29/07/2021</text>
<text transform="translate(945.7,512.6) rotate(-90)" textLength="64.1" lengthAdjust="spacingAndGlyphs">05/08/2021</text>
<text transform="translate(964.5,512.6) rotate(-90)" textLength="64.1" lengthAdjust="spacingAndGlyphs">12/08/2021</text>
<text transform="translate(983.4,512.6) rotate(-90)" textLength="64.1" lengthAdjust="spacingAndGlyphs">19/08/2021</text>
<text transform="translate(1002.2,512.6) rotate(-90)" textLength="64.1" lengthAdjust="spacingAndGlyphs">26/08/2021</text>
<text transform="translate(1021.0,512.6) rotate(-90)" textLength="64.1" lengthAdjust="spacingAndGlyphs">02/09/2021</text>
<text transform="translate(1039.8,512.6) rotate(-90)" textLength="64.1" lengthAdjust="spacingAndGlyphs">09/09/2021</text>
<text transform="translate(1058.6,512.6) rotate(-90)" textLength="64.1" lengthAdjust="spacingAndGlyphs">16/09/2021</text>
<text transform="translate(1077.4,512.6) rotate(-90)" textLength="64.1" lengthAdjust="spacingAndGlyphs">23/09/2021</text>
<text transform="translate(1096.2,512.6) rotate(-90)" textLength="64.1" lengthAdjust="spacingAndGlyphs">30/09/2021</text>
<text transform="translate(1115.0,512.6) rotate(-90)" textLength="64.1" lengthAdjust="spacingAndGlyphs">07/10/2021</text>
<text transform="translate(1133.8,512.6) rotate(-90)" textLength="64.1" lengthAdjust="spacingAndGlyphs">14/10/2021</text>
<text transform="translate(1152.6,512.6) rotate(-90)" textLength="64.1" lengthAdjust="spacingAndGlyphs">21/10/2021</text>
<text transform="translate(1171.4,512.6) rotate(-90)" textLength="64.1" lengthAdjust="spacingAndGlyphs">28/10/2021</text>
<text transform="translate(1190.2,512.6) rotate(-90)" textLength="64.1" lengthAdjust="spacingAndGlyphs">04/11/2021</text>
<text transform="translate(1209.0,512.6) rotate(-90)" textLength="64.1" lengthAdjust="spacingAndGlyphs">11/11/2021</text>
<text transform="translate(1227.8,512.6) rotate(-90)" textLength="64.1" lengthAdjust="spacingAndGlyphs">18/11/2021</text>
<text transform="translate(1246.6,512.6) rotate(-90)" textLength="64.1" lengthAdjust="spacingAndGlyphs">25/11/2021</text>
<text transform="translate(1265.4,512.6) rotate(-90)" textLength="64.1" lengthAdjust="spacingAndGlyphs">02/12/2021</text>
<text transform="translate(1284.2,512.6) rotate(-90)" textLength="64.1" lengthAdjust="spacingAndGlyphs">09/12/2021</text>
<text transform="translate(1303.0,512.6) rotate(-90)" textLength="64.1" lengthAdjust="spacingAndGlyphs">16/12/2021</text>
<text transform="translate(1321.9,512.6) rotate(-90)" textLength="64.1" lengthAdjust="spacingAndGlyphs">23/12/2021</text>
<text transform="translate(1340.7,512.6) rotate(-90)" textLength="64.1" lengthAdjust="spacingAndGlyphs">30/12/2021</text>
<text transform="translate(1359.5,512.6) rotate(-90)" textLength="64.1" lengthAdjust="spacingAndGlyphs">06/01/2022</text>
<text transform="translate(1378.3,512.6) rotate(-90)" textLength="64.1" lengthAdjust="spacingAndGlyphs">13/01/2022</text>
<text transform="translate(1397.1,512.6) rotate(-90)" textLength="64.1" lengthAdjust="spacingAndGlyphs">20/01/2022</text>
<text transform="translate(1415.9,512.6) rotate(-90)" textLength="64.1" lengthAdjust="spacingAndGlyphs">27/01/2022</text>
<text transform="translate(1434.7,512.6) rotate(-90)" textLength="64.1" lengthAdjust="spacingAndGlyphs">03/02/2022</text>
<text transform="translate(1453.5,512.6) rotate(-90)" textLength="64.1" lengthAdjust="spacingAndGlyphs">10/02/2022</text>
<text transform="translate(1472.3,512.6) rotate(-90)" textLength="64.1" lengthAdjust="spacingAndGlyphs">17/02/2022</text>
</g>
</svg>
</body></html>
